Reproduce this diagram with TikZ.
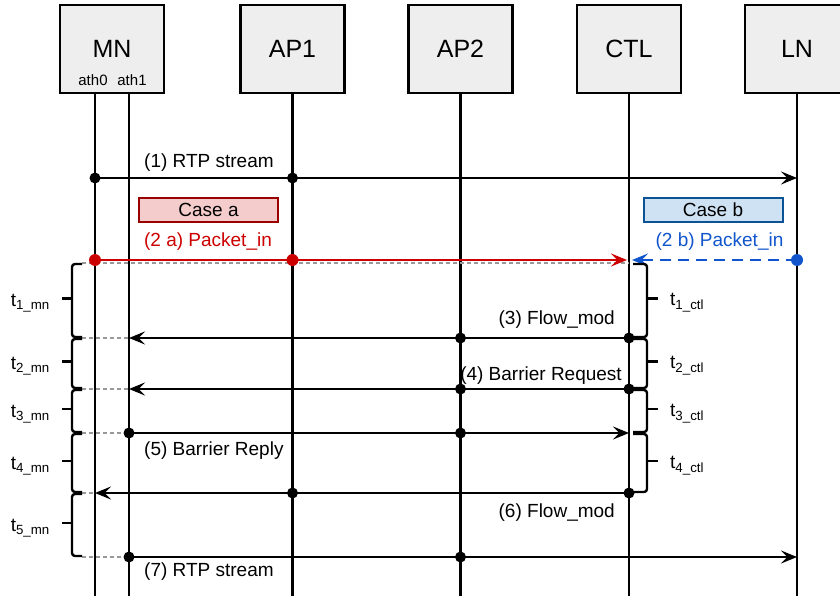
\documentclass[tikz,border=0pt]{standalone}
\usepackage{fontspec}
\setmainfont{Liberation Sans}
\usetikzlibrary{arrows.meta, calc}

\definecolor{headgray}{HTML}{EEEEEE}
\definecolor{casered}{HTML}{CC0000}
\definecolor{caseredfill}{HTML}{F4CCCC}
\definecolor{caseredline}{HTML}{990000}
\definecolor{caseblue}{HTML}{1155CC}
\definecolor{casebluefill}{HTML}{CFE2F3}
\definecolor{caseblueline}{HTML}{0B5394}

% curly span on the MN side: top row, bottom row
\newcommand{\mnspan}[2]{%
  \draw[span] ($(lb |- #1)+(0,1)$) -- ($(lb |- #1)+(-10,1)$) -- ($(lb |- #2)!0.5!(lb |- #1)+(-10,-2)$) -- ($(lb |- #2)+(-10,-1)$) -- ($(lb |- #2)+(0,-1)$);
  \draw[span] ($(lb |- #2)!0.5!(lb |- #1)+(-10,-2)$) -- ($(lb |- #2)!0.5!(lb |- #1)+(-20,-2)$);}
% curly span on the CTL side
\newcommand{\ctlspan}[2]{%
  \draw[span] ($(rb |- #1)+(0,1)$) -- ($(rb |- #1)+(14,1)$) -- ($(rb |- #2)!0.5!(rb |- #1)+(14,-2)$) -- ($(rb |- #2)+(14,-1)$) -- ($(rb |- #2)+(0,-1)$);
  \draw[span] ($(rb |- #2)!0.5!(rb |- #1)+(14,-2)$) -- ($(rb |- #2)!0.5!(rb |- #1)+(25,-2)$);}

\begin{document}
\begin{tikzpicture}[x=1pt, y=-1pt,
    head/.style={draw, line width=2.8pt, fill=headgray, minimum width=104pt, minimum height=88pt, font=\fontsize{25}{28}\selectfont},
    port/.style={inner sep=0pt, font=\fontsize{15}{17}\selectfont},
    life/.style={line width=2.8pt},
    msg/.style={line width=2.8pt, -{Stealth[length=16pt, width=13pt, inset=6.5pt]}},
    lbl/.style={inner sep=0pt, font=\fontsize{19}{22}\selectfont},
    casebox/.style={draw, line width=2pt, minimum width=139pt, minimum height=24pt, inner sep=0pt, font=\fontsize{19}{22}\selectfont},
    guide/.style={gray!80, line width=1.1pt, dash pattern=on 4pt off 3pt},
    span/.style={line width=2.4pt, rounded corners=3pt},
    tlbl/.style={inner sep=0pt, font=\fontsize{19}{22}\selectfont}]
    \useasboundingbox (0,0) rectangle (840,596);
    \clip (0,0) rectangle (840,596);

    % participants
    \node[head] (mn) at (112,49) {MN};
    \node[head] (ap1) at (292.5,49) {AP1};
    \node[head] (ap2) at (460.5,49) {AP2};
    \node[head] (ctl) at (629,49) {CTL};
    \node[head] (ln) at (797,49) {LN};
    \node[port] (ath0lbl) at (93,80) {ath0};
    \node[port] (ath1lbl) at (132,80) {ath1};
    \coordinate (ath0) at (95,93);
    \coordinate (ath1) at (129,93);

    % rows of the messages and of the span limits
    \coordinate (bottom) at (0,600);
    \coordinate (r1) at (0,178);
    \coordinate (r2) at (0,260);
    \coordinate (b0) at (0,263);
    \coordinate (b1) at (0,338);
    \coordinate (b2) at (0,389);
    \coordinate (b3) at (0,433);
    \coordinate (b4) at (0,493);
    \coordinate (b5) at (0,557);
    \coordinate (lb) at (82,0);
    \coordinate (rb) at (633,0);

    % lifelines
    \draw[life] (ath0) -- (ath0 |- bottom);
    \draw[life] (ath1) -- (ath1 |- bottom);
    \draw[life] (ap1.south) -- (ap1 |- bottom);
    \draw[life] (ap2.south) -- (ap2 |- bottom);
    \draw[life] (ctl.south) -- (ctl |- bottom);
    \draw[life] (ln.south) -- (ln |- bottom);

    % dashed guides to the spans
    \draw[guide] (lb |- b0) -- (ctl |- b0);
    \draw[guide] (lb |- b1) -- (ath1 |- b1);
    \draw[guide] (lb |- b2) -- (ath1 |- b2);
    \draw[guide] (lb |- b3) -- (ath1 |- b3);
    \draw[guide] (lb |- b4) -- (ath0 |- b4);
    \draw[guide] (lb |- b5) -- (ath1 |- b5);

    % (1) RTP stream
    \draw[msg] (ath0 |- r1) -- (ln |- r1);
    \fill (ath0 |- r1) circle[radius=5.5pt] (ap1 |- r1) circle[radius=5.5pt];
    \node[lbl, anchor=west] (t1) at (144,163) {(1) RTP stream};

    % case a / case b
    \node[casebox, fill=caseredfill, draw=caseredline] (casea) at (208.5,210) {Case a};
    \node[casebox, fill=casebluefill, draw=caseblueline] (caseb) at (713,210) {Case b};
    \node[lbl, text=casered] (t2a) at (208,242) {(2 a) Packet\_in};
    \node[lbl, text=caseblue] (t2b) at (719.5,242) {(2 b) Packet\_in};
    \draw[msg, casered, line width=2.4pt, shorten >=2pt] (ath0 |- r2) -- (ctl |- r2);
    \fill[casered] (ath0 |- r2) circle[radius=6pt] (ap1 |- r2) circle[radius=6pt];
    \draw[msg, caseblue, dash pattern=on 11pt off 7pt, shorten >=3pt] (ln |- r2) -- (ctl |- r2);
    \fill[caseblue] (ln |- r2) circle[radius=6pt];

    % (3) Flow_mod
    \draw[msg] (ctl |- b1) -- (ath1 |- b1);
    \fill (ctl |- b1) circle[radius=5.5pt] (ap2 |- b1) circle[radius=5.5pt];
    \node[lbl, anchor=east] (t3) at (615,320) {(3) Flow\_mod};

    % (4) Barrier Request
    \draw[msg] (ctl |- b2) -- (ath1 |- b2);
    \fill (ctl |- b2) circle[radius=5.5pt] (ap2 |- b2) circle[radius=5.5pt];
    \node[lbl, anchor=east] (t4) at (622,376) {(4) Barrier Request};

    % (5) Barrier Reply
    \draw[msg] (ath1 |- b3) -- (ctl |- b3);
    \fill (ath1 |- b3) circle[radius=5.5pt] (ap2 |- b3) circle[radius=5.5pt];
    \node[lbl, anchor=west] (t5) at (144,451) {(5) Barrier Reply};

    % (6) Flow_mod
    \draw[msg] (ctl |- b4) -- (ath0 |- b4);
    \fill (ctl |- b4) circle[radius=5.5pt] (ap1 |- b4) circle[radius=5.5pt];
    \node[lbl, anchor=east] (t6) at (615,513) {(6) Flow\_mod};

    % (7) RTP stream
    \draw[msg] (ath1 |- b5) -- (ln |- b5);
    \fill (ath1 |- b5) circle[radius=5.5pt] (ap2 |- b5) circle[radius=5.5pt];
    \node[lbl, anchor=west] (t7) at (144,572) {(7) RTP stream};

    % time spans on MN
    \mnspan{b0}{b1}
    \mnspan{b1}{b2}
    \mnspan{b2}{b3}
    \mnspan{b3}{b4}
    \mnspan{b4}{b5}
    \node[tlbl, anchor=east] (tm1) at (50,303) {t\textsubscript{1\_mn}};
    \node[tlbl, anchor=east] (tm2) at (50,366) {t\textsubscript{2\_mn}};
    \node[tlbl, anchor=east] (tm3) at (50,414) {t\textsubscript{3\_mn}};
    \node[tlbl, anchor=east] (tm4) at (50,466) {t\textsubscript{4\_mn}};
    \node[tlbl, anchor=east] (tm5) at (50,528) {t\textsubscript{5\_mn}};

    % time spans on CTL
    \ctlspan{b0}{b1}
    \ctlspan{b1}{b2}
    \ctlspan{b2}{b3}
    \ctlspan{b3}{b4}
    \node[tlbl, anchor=west] (tc1) at (670,303) {t\textsubscript{1\_ctl}};
    \node[tlbl, anchor=west] (tc2) at (670,366) {t\textsubscript{2\_ctl}};
    \node[tlbl, anchor=west] (tc3) at (670,414) {t\textsubscript{3\_ctl}};
    \node[tlbl, anchor=west] (tc4) at (670,466) {t\textsubscript{4\_ctl}};
\end{tikzpicture}
\end{document}
